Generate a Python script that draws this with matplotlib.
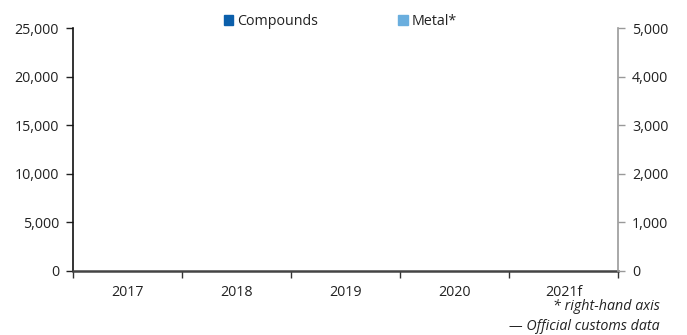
import numpy as np
import matplotlib.pyplot as plt
from matplotlib.patches import Patch

plt.rcParams['font.family'] = ['Open Sans', 'DejaVu Sans']

years = ['2017', '2018', '2019', '2020', '2021f']
# no values published for either series
compounds = [0, 0, 0, 0, 0]
metal = [0, 0, 0, 0, 0]

c_comp = '#0b5fab'
c_metal = '#6aaede'
fs = 10.3

fig = plt.figure(figsize=(6.87, 3.35), dpi=100)
ax = fig.add_axes([73 / 687, 1 - 271 / 335, 545 / 687, 243 / 335])
ax2 = ax.twinx()

x = np.arange(len(years))
w = 0.3
ax.bar(x - w / 2, compounds, w, color=c_comp)
ax2.bar(x + w / 2, metal, w, color=c_metal)

ax.set_xlim(-0.5, len(years) - 0.5)
ax.set_ylim(0, 25000)
ax2.set_ylim(0, 5000)
ax.set_yticks(np.arange(0, 25001, 5000))
ax2.set_yticks(np.arange(0, 5001, 1000))
ax.yaxis.set_major_formatter(plt.FuncFormatter(lambda v, p: f'{v:,.0f}'))
ax2.yaxis.set_major_formatter(plt.FuncFormatter(lambda v, p: f'{v:,.0f}'))

ax.set_xticks(x)
ax.set_xticklabels(years)
ax.set_xticks(np.arange(-0.5, len(years), 1), minor=True)
ax.tick_params(axis='x', which='major', length=0, pad=10, labelsize=fs, colors='#222222')
ax.tick_params(axis='x', which='minor', length=5, width=1, color='#333333')
ax.tick_params(axis='y', length=5, width=1, color='#222222', labelsize=fs, labelcolor='#222222', pad=5)
ax2.tick_params(axis='y', length=5, width=1, color='#999999', labelsize=fs, labelcolor='#222222', pad=5)

for a in (ax, ax2):
    a.spines['top'].set_visible(False)
ax.spines['right'].set_visible(False)
ax2.spines['left'].set_visible(False)
ax2.spines['bottom'].set_visible(False)
ax.spines['left'].set_color('#111111')
ax.spines['left'].set_linewidth(1.2)
ax.spines['bottom'].set_color('#444444')
ax.spines['bottom'].set_linewidth(1.8)
ax2.spines['right'].set_color('#999999')
ax2.spines['right'].set_linewidth(1.2)

handles = [Patch(color=c_comp, label='Compounds'), Patch(color=c_metal, label='Metal*')]
fig.legend(handles=handles, loc='upper left', bbox_to_anchor=(211 / 687, 1 - 1 / 335), ncol=2,
           frameon=False, fontsize=fs, handlelength=0.65, handleheight=0.65,
           handletextpad=0.3, columnspacing=5.6, labelcolor='#222222')

fig.text(660 / 687, 1 - 307 / 335, '* right-hand axis', ha='right', va='center',
         fontsize=fs, style='italic', color='#222222')
fig.text(660 / 687, 1 - 326 / 335, '\u2014 Official customs data', ha='right', va='center',
         fontsize=fs, style='italic', color='#222222')

fig.savefig('out.png', dpi=100)
